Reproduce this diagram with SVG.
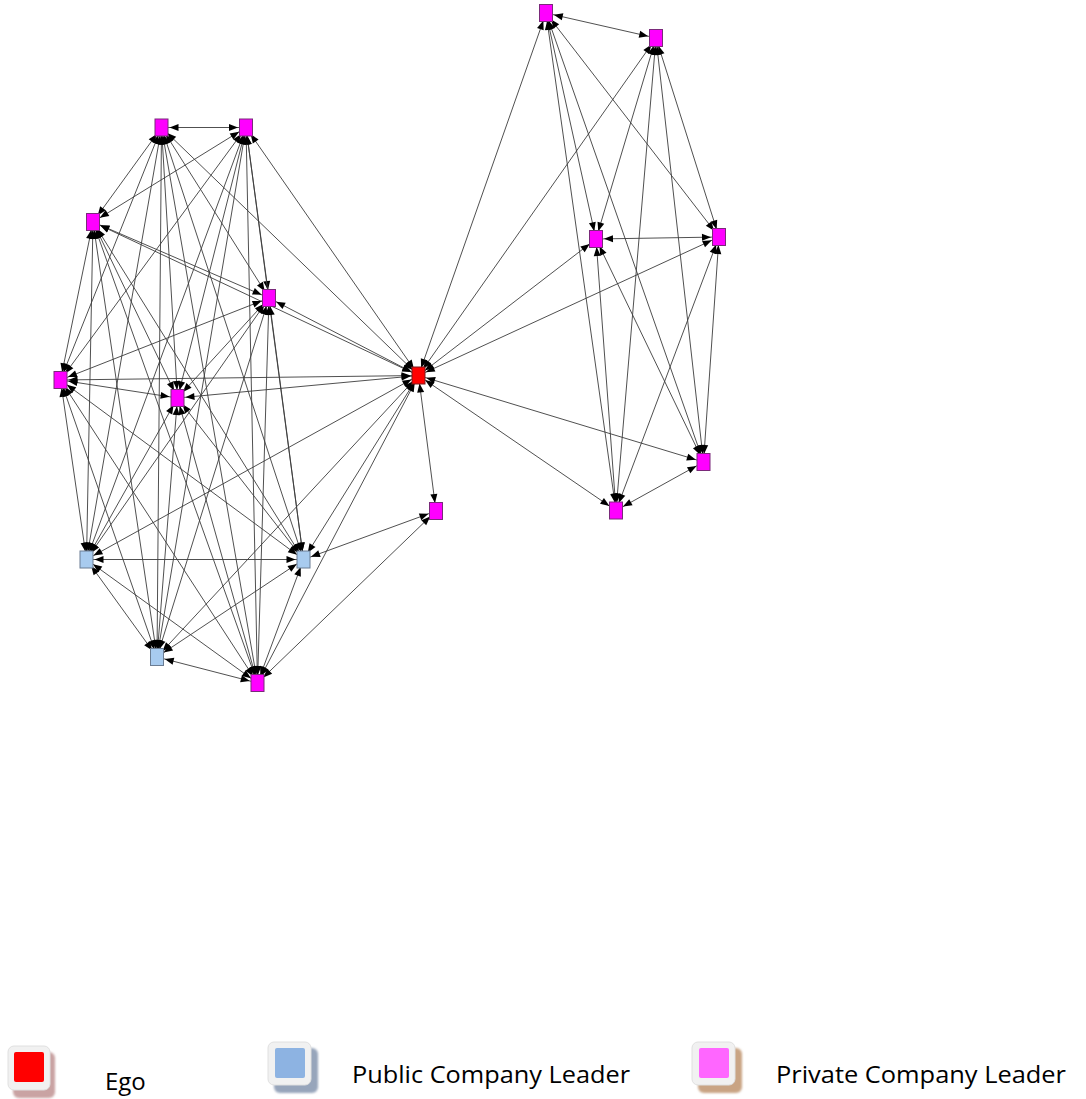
<svg xmlns="http://www.w3.org/2000/svg" width="1086" height="1099" viewBox="0 0 1086 1099">
<style>
.e{stroke:#3c3c3c;stroke-width:0.9;fill:none;marker-start:url(#ah);marker-end:url(#ah)}
.pk{fill:#FF00FF;stroke:#7a2a7a;stroke-width:1}
.pb{fill:#A8CBEF;stroke:#6b7d93;stroke-width:1}
.eg{fill:#FF0000;stroke:#7a1a1a;stroke-width:1}
.lt{font-family:"Open Sans","Liberation Sans",sans-serif;font-size:24px;fill:#000}
</style>
<defs>
<marker id="ah" viewBox="0 0 9 7" refX="17" refY="3.5" markerWidth="9" markerHeight="7" markerUnits="userSpaceOnUse" orient="auto-start-reverse" overflow="visible"><path d="M0,0 L9,3.5 L0,7 z" fill="#000"/></marker>
<filter id="sh" x="-20%" y="-20%" width="160%" height="160%"><feGaussianBlur stdDeviation="0.8"/></filter>
</defs>
<g id="connectors">
<!-- left cluster complete graph -->
<line class="e" x1="161.5" y1="127.5" x2="246" y2="127.5"/>
<line class="e" x1="161.5" y1="127.5" x2="93" y2="222"/>
<line class="e" x1="161.5" y1="127.5" x2="269" y2="298"/>
<line class="e" x1="161.5" y1="127.5" x2="60.5" y2="380"/>
<line class="e" x1="161.5" y1="127.5" x2="177.5" y2="398"/>
<line class="e" x1="161.5" y1="127.5" x2="86.5" y2="559.5"/>
<line class="e" x1="161.5" y1="127.5" x2="303.5" y2="559.5"/>
<line class="e" x1="161.5" y1="127.5" x2="157" y2="657"/>
<line class="e" x1="161.5" y1="127.5" x2="257.5" y2="683"/>
<line class="e" x1="246" y1="127.5" x2="93" y2="222"/>
<line class="e" x1="246" y1="127.5" x2="269" y2="298"/>
<line class="e" x1="246" y1="127.5" x2="60.5" y2="380"/>
<line class="e" x1="246" y1="127.5" x2="177.5" y2="398"/>
<line class="e" x1="246" y1="127.5" x2="86.5" y2="559.5"/>
<line class="e" x1="246" y1="127.5" x2="303.5" y2="559.5"/>
<line class="e" x1="246" y1="127.5" x2="157" y2="657"/>
<line class="e" x1="246" y1="127.5" x2="257.5" y2="683"/>
<line class="e" x1="93" y1="222" x2="269" y2="298"/>
<line class="e" x1="93" y1="222" x2="60.5" y2="380"/>
<line class="e" x1="93" y1="222" x2="177.5" y2="398"/>
<line class="e" x1="93" y1="222" x2="86.5" y2="559.5"/>
<line class="e" x1="93" y1="222" x2="303.5" y2="559.5"/>
<line class="e" x1="93" y1="222" x2="157" y2="657"/>
<line class="e" x1="93" y1="222" x2="257.5" y2="683"/>
<line class="e" x1="269" y1="298" x2="60.5" y2="380"/>
<line class="e" x1="269" y1="298" x2="177.5" y2="398"/>
<line class="e" x1="269" y1="298" x2="86.5" y2="559.5"/>
<line class="e" x1="269" y1="298" x2="303.5" y2="559.5"/>
<line class="e" x1="269" y1="298" x2="157" y2="657"/>
<line class="e" x1="269" y1="298" x2="257.5" y2="683"/>
<line class="e" x1="60.5" y1="380" x2="177.5" y2="398"/>
<line class="e" x1="60.5" y1="380" x2="86.5" y2="559.5"/>
<line class="e" x1="60.5" y1="380" x2="303.5" y2="559.5"/>
<line class="e" x1="60.5" y1="380" x2="157" y2="657"/>
<line class="e" x1="60.5" y1="380" x2="257.5" y2="683"/>
<line class="e" x1="177.5" y1="398" x2="86.5" y2="559.5"/>
<line class="e" x1="177.5" y1="398" x2="303.5" y2="559.5"/>
<line class="e" x1="177.5" y1="398" x2="157" y2="657"/>
<line class="e" x1="177.5" y1="398" x2="257.5" y2="683"/>
<line class="e" x1="86.5" y1="559.5" x2="303.5" y2="559.5"/>
<line class="e" x1="86.5" y1="559.5" x2="157" y2="657"/>
<line class="e" x1="86.5" y1="559.5" x2="257.5" y2="683"/>
<line class="e" x1="303.5" y1="559.5" x2="157" y2="657"/>
<line class="e" x1="303.5" y1="559.5" x2="257.5" y2="683"/>
<line class="e" x1="157" y1="657" x2="257.5" y2="683"/>
<!-- ego links -->
<line class="e" x1="418.5" y1="375.5" x2="161.5" y2="127.5"/>
<line class="e" x1="418.5" y1="375.5" x2="246" y2="127.5"/>
<line class="e" x1="418.5" y1="375.5" x2="93" y2="222"/>
<line class="e" x1="418.5" y1="375.5" x2="269" y2="298"/>
<line class="e" x1="418.5" y1="375.5" x2="60.5" y2="380"/>
<line class="e" x1="418.5" y1="375.5" x2="177.5" y2="398"/>
<line class="e" x1="418.5" y1="375.5" x2="86.5" y2="559.5"/>
<line class="e" x1="418.5" y1="375.5" x2="303.5" y2="559.5"/>
<line class="e" x1="418.5" y1="375.5" x2="157" y2="657"/>
<line class="e" x1="418.5" y1="375.5" x2="257.5" y2="683"/>
<line class="e" x1="418.5" y1="375.5" x2="436" y2="511"/>
<line class="e" x1="436" y1="511" x2="303.5" y2="559.5"/>
<line class="e" x1="436" y1="511" x2="257.5" y2="683"/>
<line class="e" x1="418.5" y1="375.5" x2="546" y2="13"/>
<line class="e" x1="418.5" y1="375.5" x2="656" y2="38"/>
<line class="e" x1="418.5" y1="375.5" x2="596" y2="239"/>
<line class="e" x1="418.5" y1="375.5" x2="719" y2="237"/>
<line class="e" x1="418.5" y1="375.5" x2="703.5" y2="462"/>
<line class="e" x1="418.5" y1="375.5" x2="616" y2="510.5"/>
<!-- right cluster complete graph -->
<line class="e" x1="546" y1="13" x2="656" y2="38"/>
<line class="e" x1="546" y1="13" x2="596" y2="239"/>
<line class="e" x1="546" y1="13" x2="719" y2="237"/>
<line class="e" x1="546" y1="13" x2="703.5" y2="462"/>
<line class="e" x1="546" y1="13" x2="616" y2="510.5"/>
<line class="e" x1="656" y1="38" x2="596" y2="239"/>
<line class="e" x1="656" y1="38" x2="719" y2="237"/>
<line class="e" x1="656" y1="38" x2="703.5" y2="462"/>
<line class="e" x1="656" y1="38" x2="616" y2="510.5"/>
<line class="e" x1="596" y1="239" x2="719" y2="237"/>
<line class="e" x1="596" y1="239" x2="703.5" y2="462"/>
<line class="e" x1="596" y1="239" x2="616" y2="510.5"/>
<line class="e" x1="719" y1="237" x2="703.5" y2="462"/>
<line class="e" x1="719" y1="237" x2="616" y2="510.5"/>
<line class="e" x1="703.5" y1="462" x2="616" y2="510.5"/>
</g>
<g id="node-A"><rect class="pk" x="155" y="119" width="13" height="17"/></g>
<g id="node-B"><rect class="pk" x="239.5" y="119" width="13" height="17"/></g>
<g id="node-C"><rect class="pk" x="86.5" y="213.5" width="13" height="17"/></g>
<g id="node-D"><rect class="pk" x="262.5" y="289.5" width="13" height="17"/></g>
<g id="node-E"><rect class="pk" x="54" y="371.5" width="13" height="17"/></g>
<g id="node-F"><rect class="pk" x="171" y="389.5" width="13" height="17"/></g>
<g id="node-G"><rect class="pb" x="80" y="551" width="13" height="17"/></g>
<g id="node-H"><rect class="pb" x="297" y="551" width="13" height="17"/></g>
<g id="node-I"><rect class="pb" x="150.5" y="648.5" width="13" height="17"/></g>
<g id="node-J"><rect class="pk" x="251" y="674.5" width="13" height="17"/></g>
<g id="node-Ego"><rect class="eg" x="412" y="367" width="13" height="17"/></g>
<g id="node-K"><rect class="pk" x="429.5" y="502.5" width="13" height="17"/></g>
<g id="node-R1"><rect class="pk" x="539.5" y="4.5" width="13" height="17"/></g>
<g id="node-R2"><rect class="pk" x="649.5" y="29.5" width="13" height="17"/></g>
<g id="node-R3"><rect class="pk" x="589.5" y="230.5" width="13" height="17"/></g>
<g id="node-R4"><rect class="pk" x="712.5" y="228.5" width="13" height="17"/></g>
<g id="node-R5"><rect class="pk" x="697" y="453.5" width="13" height="17"/></g>
<g id="node-R6"><rect class="pk" x="609.5" y="502" width="13" height="17"/></g>
<g id="legend-ego">
<rect x="13" y="1052" width="42" height="46" rx="6" fill="#c9a3a3" filter="url(#sh)"/>
<rect x="8" y="1046" width="42" height="44" rx="6" fill="#f1f1f1" stroke="#e0e0e0"/>
<rect x="14" y="1052" width="30" height="30" rx="2" fill="#FF0000"/>
<text class="lt" x="105" y="1090">Ego</text>
</g>
<g id="legend-public">
<rect x="274" y="1048" width="44" height="45" rx="6" fill="#97a5bb" filter="url(#sh)"/>
<rect x="268" y="1042" width="43" height="43" rx="6" fill="#f1f1f1" stroke="#e0e0e0"/>
<rect x="275" y="1048" width="30" height="30" rx="2" fill="#8DB3E2"/>
<text class="lt" x="352" y="1083" textLength="278" lengthAdjust="spacingAndGlyphs">Public Company Leader</text>
</g>
<g id="legend-private">
<rect x="698" y="1048" width="44" height="45" rx="6" fill="#c9a484" filter="url(#sh)"/>
<rect x="692" y="1042" width="43" height="43" rx="6" fill="#f1f1f1" stroke="#e0e0e0"/>
<rect x="699" y="1048" width="30" height="30" rx="2" fill="#FF66FF"/>
<text class="lt" x="776" y="1083" textLength="290" lengthAdjust="spacingAndGlyphs">Private Company Leader</text>
</g>
</svg>
